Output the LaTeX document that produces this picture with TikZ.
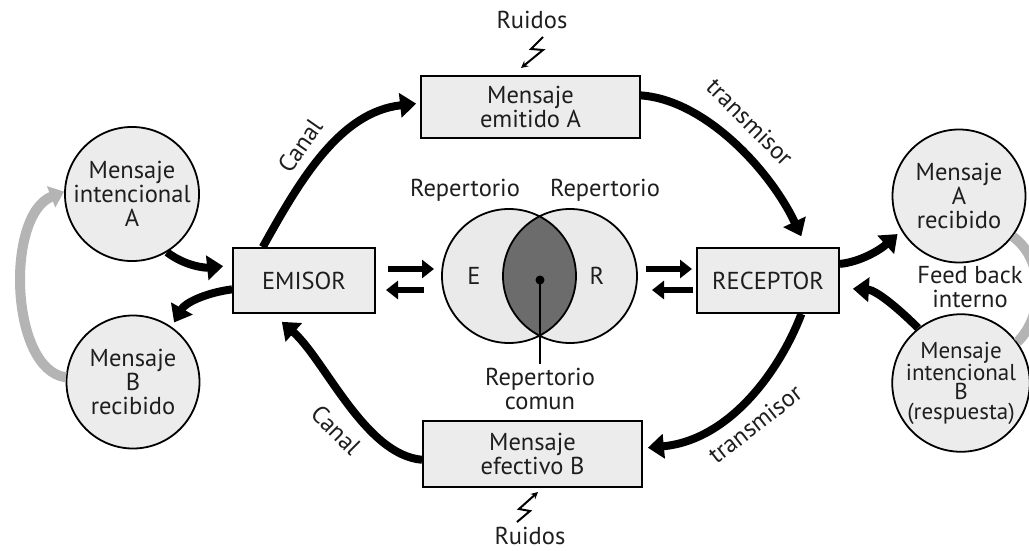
\documentclass[tikz,border=0pt]{standalone}
\usepackage{fontspec}
\setmainfont{PT Sans}
\usetikzlibrary{arrows.meta}
\definecolor{fillg}{RGB}{236,236,236}
\definecolor{venng}{RGB}{234,234,234}
\definecolor{darkg}{RGB}{108,108,108}
\definecolor{txt}{RGB}{30,30,30}
\definecolor{fbg}{RGB}{180,180,180}
\begin{document}
\begin{tikzpicture}[x=1pt,y=-1pt,
  every node/.style={text=txt, font=\fontsize{24.5}{24}\selectfont},
  box/.style={draw=black, line width=1.8pt, fill=fillg, align=center, inner sep=0pt},
  msg/.style={circle, draw=black, line width=1.8pt, fill=fillg, align=center, inner sep=0pt, minimum size=133pt},
  big/.style={line width=8pt, -{Triangle[length=16pt,width=24pt]}},
  dbl/.style={line width=6.5pt, -{Triangle[length=12pt,width=18pt]}},
  fbk/.style={draw=fbg, line width=10pt},
  noise/.style={line width=2pt, -{Stealth[length=7pt,width=7pt]}},
  lbl/.style={inner sep=0pt}
]
\clip (0,0) rectangle (1029,551);
\fill[white] (0,0) rectangle (1029,551);

% boxes
\node[box, minimum width=219pt, minimum height=62pt] (emitido) at (530.5,107) {Mensaje\\emitido A};
\node[box, minimum width=219pt, minimum height=66pt] (efectivo) at (532.5,454) {Mensaje\\efectivo B};
\node[box, minimum width=142pt, minimum height=65pt] (emisor) at (304,280.5) {EMISOR};
\node[box, minimum width=142pt, minimum height=65pt] (receptor) at (768,280.5) {RECEPTOR};

% circles
\node[msg] (intA) at (132,194) {Mensaje\\intencional\\A};
\node[msg] (recB) at (133,382) {Mensaje\\B\\recibido};
\node[msg] (recA) at (959,196) {Mensaje\\A\\recibido};
\node[msg, font=\fontsize{23}{19.5}\selectfont] (intB) at (961,383) {Mensaje\\intencional\\B\\(respuesta)};

% feedback
\draw[fbk, -{Triangle[length=14pt,width=22pt]}] (recB.176.6) .. controls (10,370) and (5,215) .. (intA.178);
\draw[fbk] (recA.-37) .. controls (1045,260) and (1045,315) .. (intB.36);
\node[align=center] (fb) at (970,287) {Feed back\\interno};

% Venn
\fill[venng] (509,276) circle[radius=67];
\fill[venng] (570,276) circle[radius=67];
\begin{scope}
  \clip (509,276) circle[radius=67];
  \fill[darkg] (570,276) circle[radius=67];
\end{scope}
\draw[line width=1.8pt] (509,276) circle[radius=67] (570,276) circle[radius=67];
\node (repE) at (465,190) {Repertorio};
\node (repR) at (605,190) {Repertorio};
\node (E) at (474,276) {E};
\node (R) at (597,276) {R};
\node[circle, fill=black, inner sep=0pt, minimum size=9pt] (dot) at (540,280) {};
\node[align=center, anchor=north, inner sep=0pt] (comun) at (540,368) {Repertorio\\comun};
\draw[line width=2pt, shorten >=4pt] (dot.center) -- (comun.north);

% double arrows
\coordinate (d1s) at (388,269); \coordinate (d1e) at (434,269);
\coordinate (d2s) at (424,290); \coordinate (d2e) at (386,290);
\coordinate (d3s) at (646,269); \coordinate (d3e) at (692,269);
\coordinate (d4s) at (693,290); \coordinate (d4e) at (652,290);
\draw[dbl] (d1s) -- (d1e);
\draw[dbl] (d2s) -- (d2e);
\draw[dbl] (d3s) -- (d3e);
\draw[dbl] (d4s) -- (d4e);

% main loop
\draw[big, shorten >=4pt] (emisor.141.6) .. controls (300,180) and (340,112) .. (emitido.178);
\draw[big, shorten >=12pt] (emitido.6) .. controls (705,100) and (770,170) .. (receptor.41.3);
\draw[big, shorten >=5pt] (receptor.-45.5) .. controls (780,370) and (730,440) .. (efectivo.3);
\draw[big, shorten >=12pt] (efectivo.183) .. controls (365,455) and (325,360) .. (emisor.227.3);

% side arrows
\draw[big, shorten >=9pt] (intA.-59.6) .. controls (185,266) and (205,268) .. (emisor.168.5);
\draw[big, shorten >=5pt] (emisor.187.6) .. controls (205,293) and (185,303) .. (recB.55);
\draw[big, shorten >=5pt] (receptor.13.8) .. controls (860,262) and (880,250) .. (recA.211.5);
\draw[big, shorten >=13pt] (intB.128.5) .. controls (895,305) and (875,290) .. (receptor.-6);

% labels
\node[rotate=55] (c1) at (300,146) {Canal};
\node[rotate=-45] (t1) at (750,122) {transmisor};
\node[rotate=38] (t2) at (755,424) {transmisor};
\node[rotate=-45] (c2) at (336,430) {Canal};

% noise
\node (rtop) at (532,20) {Ruidos};
\node[inner sep=0pt] (rbot) at (530,536) {Ruidos};
\draw[noise] (517,522) -- (530,511) -- (519,509) -- (538,492);
\draw[noise] (543,37) -- (531,49) -- (543,50) -- (521,68);
\end{tikzpicture}
\end{document}
